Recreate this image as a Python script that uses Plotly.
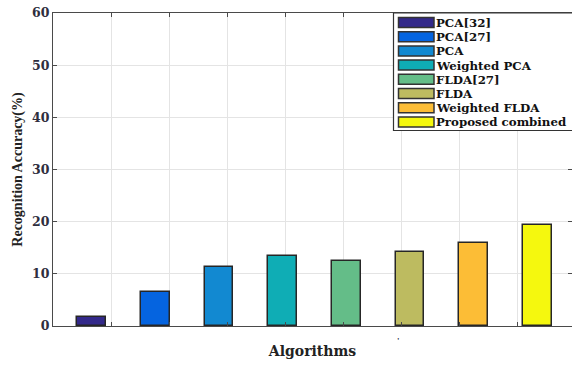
import plotly.graph_objects as go

# ---- data ----
algorithms = ["PCA[32]", "PCA[27]", "PCA", "Weighted PCA", "FLDA[27]",
              "FLDA", "Weighted FLDA", "Proposed combined"]
accuracy = [1.8, 6.6, 11.4, 13.4, 12.45, 14.2, 15.9, 19.3]
bar_colors = ["#33298a", "#0564e0", "#1289d1", "#0fadb5",
              "#64bd88", "#bdbb60", "#fcbd36", "#f5f80e"]
y_ticks = [0, 10, 20, 30, 40, 50, 60]

# ---- layout geometry (pixels) ----
W, H = 572, 366
ML, MR, MT, MB = 53, 0, 13, 40
PW, PH = W - ML - MR, H - MT - MB

def px(x):
    return (x - ML) / PW

def py(y):
    return (H - MB - y) / PH

positions = list(range(1, len(algorithms) + 1))
unit = 63.7  # pixels per category
x0 = 1 - (91.5 - ML) / unit
x1 = x0 + PW / unit

FONT = "Liberation Serif"
LFONT = "DejaVu Serif"
TXT = "#2e2e3e"
AX = "#4a4a4a"

fig = go.Figure()
fig.add_trace(go.Bar(
    x=positions, y=accuracy, width=0.45,
    marker=dict(color=bar_colors, line=dict(color="#262626", width=1.5)),
    hovertext=algorithms, showlegend=False,
))

# manual legend built from the category lists
shapes = []
annotations = []
shapes.append(dict(type="rect", xref="paper", yref="paper",
                   x0=px(393.5), x1=px(576), y0=py(130.5), y1=py(13),
                   line=dict(color="#333333", width=1.2), fillcolor="white",
                   layer="above"))
for i, (name, col) in enumerate(zip(algorithms, bar_colors)):
    cy = 22.5 + i * 14.2
    shapes.append(dict(type="rect", xref="paper", yref="paper",
                       x0=px(398.5), x1=px(434), y0=py(cy + 5), y1=py(cy - 5),
                       line=dict(color="#333333", width=1.5), fillcolor=col,
                       layer="above"))
    annotations.append(dict(text=f"<b>{name}</b>", xref="paper", yref="paper",
                            x=px(435), y=py(cy + 0.5), xanchor="left", yanchor="middle",
                            showarrow=False, borderpad=0,
                            font=dict(family=LFONT, size=11.8, color="#111111")))

annotations.append(dict(text="<b>'</b>", xref="paper", yref="paper",
                        x=px(402), y=py(334), yanchor="top", showarrow=False,
                        font=dict(family=FONT, size=9, color=TXT)))

fig.update_layout(
    width=W, height=H,
    margin=dict(l=ML, r=MR, t=MT, b=MB, pad=0),
    paper_bgcolor="white", plot_bgcolor="white",
    bargap=0,
    shapes=shapes, annotations=annotations,
    xaxis=dict(
        range=[x0, x1], tick0=x0, dtick=58 / unit,
        showticklabels=False, ticks="inside", ticklen=4, tickcolor=AX,
        showgrid=True, gridcolor="#e4e4e4", gridwidth=1,
        showline=True, linecolor=AX, linewidth=1.3, mirror="ticks",
        zeroline=False,
        title=dict(text="<b>Algorithms</b>", standoff=20,
                   font=dict(family=LFONT, size=14, color="#222222")),
    ),
    yaxis=dict(
        range=[0, 60], tickvals=y_ticks, ticktext=[f"<b>{v}</b>" for v in y_ticks],
        ticks="inside", ticklen=4, tickcolor=AX,
        tickfont=dict(family=LFONT, size=12.5, color=TXT),
        showgrid=True, gridcolor="#e4e4e4", gridwidth=1,
        showline=True, linecolor=AX, linewidth=1.3, mirror="ticks",
        zeroline=False,
        title=dict(text="<b>Recognition Accuracy(%)</b>", standoff=6,
                   font=dict(family=FONT, size=14, color="#222222")),
    ),
)

fig.write_html("out.html")
